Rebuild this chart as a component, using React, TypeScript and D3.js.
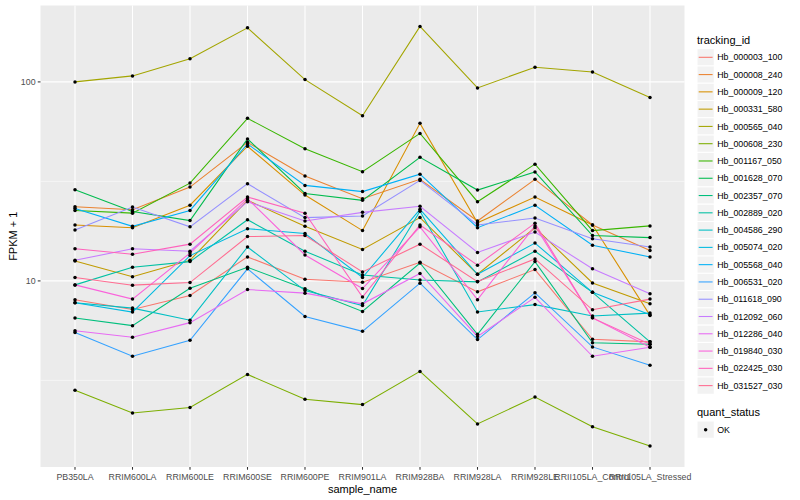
import React from 'react';
import * as d3 from 'd3';

// sample order on the x axis
const samples = [
  'PB350LA', 'RRIM600LA', 'RRIM600LE', 'RRIM600SE', 'RRIM600PE', 'RRIM901LA',
  'RRIM928BA', 'RRIM928LA', 'RRIM928LE', 'RRII105LA_Control', 'RRII105LA_Stressed',
];

const trackingIds = [
  'Hb_000003_100', 'Hb_000008_240', 'Hb_000009_120', 'Hb_000331_580', 'Hb_000565_040',
  'Hb_000608_230', 'Hb_001167_050', 'Hb_001628_070', 'Hb_002357_070', 'Hb_002889_020',
  'Hb_004586_290', 'Hb_005074_020', 'Hb_005568_040', 'Hb_006531_020', 'Hb_011618_090',
  'Hb_012092_060', 'Hb_012286_040', 'Hb_019840_030', 'Hb_022425_030', 'Hb_031527_030',
];

// ggplot hue_pal()(20)
const hueColors = [
  '#F8766D', '#EA8331', '#D89000', '#C09B00', '#A3A500', '#7CAE00', '#39B600', '#00BB4E',
  '#00BF7D', '#00C1A3', '#00BFC4', '#00BAE0', '#00B0F6', '#35A2FF', '#9590FF', '#C77CFF',
  '#E76BF3', '#FA62DB', '#FF62BC', '#FF6C91',
];

// FPKM + 1, one value per sample
const hb_000003_100 = [8.04, 7.19, 8.45, 13.2, 10.2, 9.85, 12.4, 8.81, 11.4, 5.09, 4.94];
const hb_000008_240 = [23.6, 22.8, 29.6, 49.7, 33.7, 25.9, 32.4, 20.0, 32.4, 19.1, 14.2];
const hb_000009_120 = [19.1, 18.5, 24.0, 47.5, 27.0, 17.9, 61.9, 19.6, 26.4, 19.1, 6.71];
const hb_000331_580 = [12.6, 10.5, 12.7, 25.4, 18.8, 14.4, 20.8, 10.8, 18.5, 9.77, 7.67];
const hb_000565_040 = [100, 107.2, 130.8, 186.9, 102.7, 67.6, 189.9, 93.3, 118.5, 112.2, 83.5];
const hb_000608_230 = [2.82, 2.17, 2.31, 3.39, 2.54, 2.39, 3.51, 1.91, 2.61, 1.85, 1.48];
const hb_001167_050 = [22.6, 21.9, 31.0, 65.6, 46.2, 35.4, 55.1, 25.0, 38.6, 17.9, 18.9];
const hb_001628_070 = [28.7, 22.3, 20.1, 51.7, 27.5, 25.4, 41.8, 28.6, 35.3, 16.9, 16.5];
const hb_002357_070 = [6.51, 5.96, 9.19, 11.7, 9.12, 7.02, 12.3, 5.39, 12.5, 4.89, 4.80];
const hb_002889_020 = [9.55, 11.7, 12.5, 20.3, 14.1, 10.7, 10.1, 9.89, 14.1, 8.76, 4.94];
const hb_004586_290 = [7.76, 7.30, 6.35, 14.8, 8.94, 7.52, 22.4, 6.98, 7.60, 6.66, 6.89];
const hb_005074_020 = [7.76, 6.97, 13.4, 18.3, 17.3, 10.4, 22.9, 10.8, 15.5, 8.76, 6.76];
const hb_005568_040 = [23.1, 18.8, 22.6, 48.8, 30.2, 28.1, 34.4, 18.5, 24.0, 15.1, 13.2];
const hb_006531_020 = [5.51, 4.18, 5.03, 11.5, 6.63, 5.58, 9.74, 5.07, 8.71, 4.66, 3.77];
const hb_011618_090 = [18.0, 23.5, 18.7, 30.8, 20.8, 21.2, 32.0, 19.1, 20.7, 16.3, 14.8];
const hb_012092_060 = [12.7, 14.5, 14.1, 25.0, 20.0, 22.1, 23.7, 13.9, 17.6, 11.5, 8.61];
const hb_012286_040 = [5.62, 5.21, 6.17, 9.05, 8.68, 7.67, 10.9, 5.26, 8.27, 4.18, 4.64];
const hb_019840_030 = [9.55, 8.10, 13.8, 25.9, 13.5, 9.15, 18.7, 8.05, 18.9, 6.52, 4.64];
const hb_022425_030 = [14.5, 13.6, 15.3, 26.4, 21.9, 8.29, 19.1, 12.0, 19.5, 6.52, 4.80];
const hb_031527_030 = [10.4, 9.52, 9.81, 16.7, 16.9, 11.1, 15.3, 9.92, 12.9, 7.16, 8.10];

const seriesValues = [
  hb_000003_100, hb_000008_240, hb_000009_120, hb_000331_580, hb_000565_040,
  hb_000608_230, hb_001167_050, hb_001628_070, hb_002357_070, hb_002889_020,
  hb_004586_290, hb_005074_020, hb_005568_040, hb_006531_020, hb_011618_090,
  hb_012092_060, hb_012286_040, hb_019840_030, hb_022425_030, hb_031527_030,
];

const yMajor = [10, 100];
const yMinor = [Math.sqrt(10), Math.sqrt(1000)];

const W = 800;
const H = 500;
const panel = { left: 40.5, right: 684.5, top: 5.5, bottom: 467 };
const font = '"Liberation Sans", Arial, Helvetica, sans-serif';

export default function App() {
  const all = seriesValues.flat();
  const [lo, hi] = d3.extent(all) as [number, number];
  // ggplot style 5% expansion on the log scale
  const l0 = Math.log10(lo), l1 = Math.log10(hi);
  const pad = (l1 - l0) * 0.05;

  const x = d3.scalePoint<string>().domain(samples)
    .range([panel.left, panel.right]).padding(0.6);
  const y = d3.scaleLog()
    .domain([Math.pow(10, l0 - pad), Math.pow(10, l1 + pad)])
    .range([panel.bottom, panel.top]);

  const line = d3.line<number>()
    .x((_, i) => x(samples[i]) as number)
    .y(d => y(d));

  const keyH = 17.28;
  const keyTop = 48.66;
  const legendX = 697;

  return (
    <svg width={W} height={H} style={{ display: 'block', position: 'absolute', left: 0, top: 0 }}
      fontFamily={font}>
      <rect width={W} height={H} fill="#fff" />
      <rect x={panel.left} y={panel.top} width={panel.right - panel.left}
        height={panel.bottom - panel.top} fill="#EBEBEB" />

      {/* grid */}
      {yMinor.map(v => (
        <line key={'mi' + v} x1={panel.left} x2={panel.right} y1={y(v)} y2={y(v)}
          stroke="#fff" strokeWidth={0.53} />
      ))}
      {yMajor.map(v => (
        <line key={'ma' + v} x1={panel.left} x2={panel.right} y1={y(v)} y2={y(v)}
          stroke="#fff" strokeWidth={1.07} />
      ))}
      {samples.map(s => (
        <line key={'gx' + s} x1={x(s)} x2={x(s)} y1={panel.top} y2={panel.bottom}
          stroke="#fff" strokeWidth={1.07} />
      ))}

      {/* lines */}
      {seriesValues.map((vals, i) => (
        <path key={trackingIds[i]} d={line(vals) || ''} fill="none"
          stroke={hueColors[i]} strokeWidth={1.07} />
      ))}
      {/* points */}
      {seriesValues.map((vals, i) => vals.map((v, j) => (
        <circle key={trackingIds[i] + j} cx={x(samples[j])} cy={y(v)} r={1.75} fill="#000" />
      )))}

      {/* y axis */}
      {yMajor.map(v => (
        <g key={'yt' + v}>
          <line x1={panel.left - 2.75} x2={panel.left} y1={y(v)} y2={y(v)} stroke="#333" strokeWidth={1.07} />
          <text x={panel.left - 4.95} y={y(v)} dy="0.35em" textAnchor="end" fontSize={8.8} fill="#4D4D4D">{v}</text>
        </g>
      ))}
      <text transform={`translate(${17},${(panel.top + panel.bottom) / 2}) rotate(-90)`}
        textAnchor="middle" fontSize={11} fill="#000">FPKM + 1</text>

      {/* x axis */}
      {samples.map(s => (
        <g key={'xt' + s}>
          <line x1={x(s)} x2={x(s)} y1={panel.bottom} y2={panel.bottom + 2.75} stroke="#333" strokeWidth={1.07} />
          <text x={x(s)} y={panel.bottom + 6} dy="0.75em" textAnchor="middle" fontSize={8.8} fill="#4D4D4D">{s}</text>
        </g>
      ))}
      <text x={(panel.left + panel.right) / 2} y={493} textAnchor="middle" fontSize={11} fill="#000">sample_name</text>

      {/* legend: tracking_id */}
      <text x={legendX} y={44} fontSize={11} fill="#000">tracking_id</text>
      {trackingIds.map((id, i) => {
        const top = keyTop + i * keyH;
        return (
          <g key={'lg' + id}>
            <rect x={legendX} y={top} width={keyH} height={keyH} fill="#F2F2F2" stroke="#fff" strokeWidth={1} />
            <line x1={legendX + 1.7} x2={legendX + keyH - 1.7} y1={top + keyH / 2} y2={top + keyH / 2}
              stroke={hueColors[i]} strokeWidth={1.07} />
            <text x={legendX + keyH + 3} y={top + keyH / 2} dy="0.35em" fontSize={8.8} fill="#000">{id}</text>
          </g>
        );
      })}

      {/* legend: quant_status */}
      <text x={legendX} y={416} fontSize={11} fill="#000">quant_status</text>
      <rect x={legendX} y={421} width={keyH} height={keyH} fill="#F2F2F2" stroke="#fff" strokeWidth={1} />
      <circle cx={legendX + keyH / 2} cy={421 + keyH / 2} r={1.75} fill="#000" />
      <text x={legendX + keyH + 3} y={421 + keyH / 2} dy="0.35em" fontSize={8.8} fill="#000">OK</text>
    </svg>
  );
}
